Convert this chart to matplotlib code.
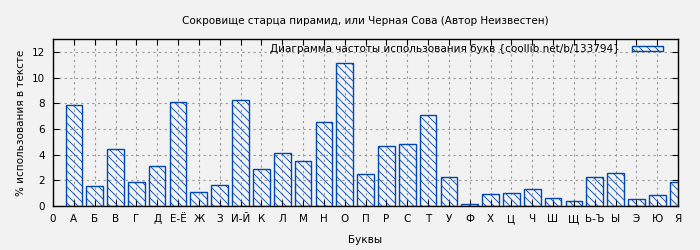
from matplotlib import pyplot
import numpy

letters = ["0", "А", "Б", "В", "Г", "Д", "Е-Ё", "Ж", "З", "И-Й", "К", "Л", "М", "Н", "О",
           "П", "Р", "С", "Т", "У", "Ф", "Х", "Ц", "Ч", "Ш", "Щ", "Ь-Ъ", "Ы", "Э", "Ю", "Я"]
percent = [7.85, 1.56, 4.44, 1.85, 3.12, 8.1, 1.07, 1.64, 8.24, 2.86, 4.1, 3.51, 6.55, 11.12,
           2.49, 4.65, 4.83, 7.07, 2.26, 0.16, 0.94, 1.01, 1.3, 0.62, 0.39, 2.25, 2.55, 0.55,
           0.86, 1.87]

title = "Сокровище старца пирамид, или Черная Сова (Автор Неизвестен)"
legend_label = "Диаграмма частоты использования букв {coollib.net/b/133794}"

# dpi 96 so the hatch lines land on an even 8 px spacing
DPI = 96
k = 100 / DPI
fs = 7.5 * k

pyplot.rcParams["font.family"] = ["DejaVu Sans"]
pyplot.rcParams["font.size"] = fs
pyplot.rcParams["hatch.linewidth"] = 0.6 * k
pyplot.rcParams["hatch.color"] = "#0047b0"

fig = pyplot.figure(figsize=(700 / DPI, 250 / DPI), dpi=DPI, facecolor="#f2f2f2")
ax = fig.add_axes([53 / 700, 44 / 250, 625 / 700, 167 / 250])
ax.set_facecolor("#f2f2f2")

x = numpy.arange(1, len(percent) + 1)
ax.bar(x, percent, width=0.8, facecolor="none", edgecolor="#0047b0",
       hatch="\\\\\\\\", linewidth=1.0 * k, label=legend_label, zorder=3)

ax.set_xlim(0, 30)
ax.set_ylim(0, 13)
ax.set_xticks(numpy.arange(0, len(letters)))
ax.set_xticklabels(letters)
ax.set_yticks(numpy.arange(0, 13, 2))
ax.tick_params(direction="in", top=True, right=True, length=4 * k, pad=6 * k)
ax.grid(True, color="#999999", linestyle=(0, (2, 3)), linewidth=0.8 * k, zorder=0)
for s in ax.spines.values():
    s.set_linewidth(1.0 * k)

ax.set_title(title, fontsize=fs, pad=11 * k)
ax.set_xlabel("Буквы", labelpad=8 * k)
ax.set_ylabel("% использования в тексте")

ax.legend(loc="upper right", frameon=False, markerfirst=False, handlelength=3.0,
          handleheight=0.5, borderaxespad=0.3, borderpad=0.2, handletextpad=1.2,
          fontsize=fs, bbox_to_anchor=(0.985, 1.0))

pyplot.savefig("out.png", dpi=DPI, facecolor=fig.get_facecolor())
